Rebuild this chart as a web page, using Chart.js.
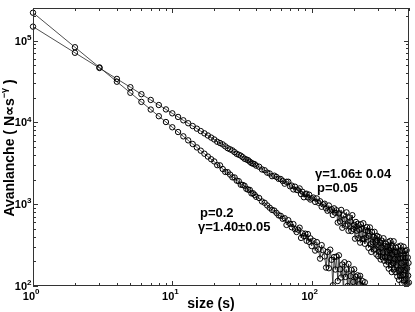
<!DOCTYPE html>
<html>
<head>
<meta charset="utf-8">
<script src="https://cdn.jsdelivr.net/npm/chart.js@4.4.1/dist/chart.umd.min.js"></script>
<style>
  html, body { margin: 0; padding: 0; background: #fff; }
  canvas { display: block; }
</style>
</head>
<body>
<canvas id="avalancheChart" width="415" height="312"></canvas>
<script>
// avalanche sizes (s) — same list for both runs, p=0.2 stops earlier
const sizes = [
  1, 2, 3, 4, 5, 6, 7, 8, 9, 10, 11, 12, 13, 14, 15, 16, 17, 18, 19, 20,
  21, 22, 23, 24, 25, 26, 27, 28, 29, 30, 31, 32, 33, 34, 35, 36, 37, 38, 39, 40,
  42, 44, 46, 48, 50, 52, 54, 56, 58, 60, 62, 64, 66, 68, 70, 72, 74, 76, 78, 80,
  82, 84, 86, 88, 90, 92, 94, 96, 98, 100,
  103, 106, 109, 112, 115, 118, 121, 124, 127, 130, 133, 136, 139, 142, 145, 148,
  151, 154, 157, 160, 163, 166, 169, 172, 175, 178, 181, 184, 187, 190, 193, 196,
  199, 202, 205, 208, 211, 214, 217, 220, 223, 226, 229, 232, 235, 238, 241, 244,
  247, 250, 253, 256, 259, 262, 265, 268, 271, 274, 277, 280, 283, 286, 289, 292,
  295, 298, 301, 304, 307, 310, 313, 316, 319, 322, 325, 328, 331, 334, 337, 340,
  343, 346, 349, 352, 355, 358, 361, 364, 367, 370, 373, 376, 379, 382, 385, 388,
  391, 394, 397, 400, 403, 406, 409, 412, 415, 418, 421, 424, 427, 430, 433, 436,
  439, 442, 445, 448, 451, 454, 457, 460, 463, 466, 469, 472, 475, 478, 481, 484,
  487, 490, 493, 496, 499
];

// p = 0.05, gamma = 1.06
const countsP005 = [
  148000, 70900, 46200, 34000, 26900, 22100, 18800, 16300, 14400, 12900,
  11650, 10600, 9760, 9020, 8380, 7830, 7340, 6910, 6520, 6180,
  5800, 5590, 5380, 5090, 4830, 4680, 4540, 4325, 4120, 4020,
  3920, 3755, 3590, 3520, 3450, 3310, 3180, 3130, 3080, 2960,
  2870, 2660, 2600, 2430, 2370, 2200, 2230, 2150, 2040, 2030,
  1923, 1781, 1877, 1880, 1655, 1688, 1516, 1637, 1497, 1478,
  1557, 1328, 1418, 1216, 1328, 1343, 1212, 1306, 1139, 1177,
  1205, 1066, 1176, 1042, 1085, 930, 994, 1013, 891, 831,
  963, 839, 867, 739, 889, 785, 842, 597, 772, 615,
  851, 515, 730, 654, 546, 794, 564, 473, 687, 616,
  470, 734, 499, 558, 379, 606, 474, 575, 383, 486,
  339, 569, 500, 374, 585, 381, 328, 478, 392, 523,
  470, 293, 409, 520, 324, 261, 458, 343, 399, 279,
  459, 286, 340, 243, 409, 361, 231, 396, 260, 338,
  211, 295, 359, 225, 256, 383, 204, 306, 224, 329,
  183, 262, 305, 200,
  344, 163, 275, 221, 356, 181, 291, 148, 243, 304,
  190, 352, 159, 213, 260, 148, 294, 180, 258, 131,
  216, 303,
  155, 119, 264, 218, 133, 311, 158, 189, 108, 269,
  222, 136, 302, 117, 197, 156, 268, 104, 220, 123,
  273, 164, 108, 223, 134, 191, 110
];

// p = 0.2, gamma = 1.40
const countsP02 = [
  219000, 82900, 47000, 31400, 23000, 17800, 14350, 11900, 10100, 8710,
  7620, 6750, 6030, 5440, 4940, 4510, 4140, 3820, 3545, 3330,
  3000, 2980, 2690, 2480, 2460, 2300, 2130, 2120, 1940, 1910,
  1730, 1720, 1680, 1540, 1505, 1495, 1355, 1360, 1300, 1230,
  1190, 1080, 1040, 965, 905, 851, 835, 781, 730, 720,
  663, 674, 558, 637, 577, 522, 571, 494, 457, 488,
  516, 387, 440, 409, 436, 357, 431, 346, 382, 308,
  357, 271, 344, 280, 216, 316, 273, 230, 168, 261,
  165, 278, 209, 102, 226, 159, 229, 115, 237, 160,
  127, 183, 83, 195, 129, 159, 100, 186, 81, 132,
  158, 93, 112, 160, 68, 130, 93, 135, 74, 105,
  133, 79, 55, 115, 87, 68, 111, 79, 87, 73
];

const xDecades = [1, 10, 100];
const yDecades = [100, 1000, 10000, 100000];
const FONT = '"Liberation Sans", Arial, Helvetica, sans-serif';

function toPoints(counts) {
  return counts.map((c, i) => ({ x: sizes[i], y: c }));
}

// draws "10" with a raised exponent
function drawPow(ctx, x, y, exp, side) {
  ctx.font = 'bold 11px ' + FONT;
  ctx.textBaseline = 'middle';
  if (side === 'y') {
    ctx.textAlign = 'right';
    ctx.fillText('10', x, y + 1);
    ctx.font = 'bold 8px ' + FONT;
    ctx.textAlign = 'left';
    ctx.fillText(String(exp), x, y - 3);
  } else {
    ctx.textAlign = 'right';
    ctx.fillText('10', x + 2, y + 5);
    ctx.font = 'bold 8px ' + FONT;
    ctx.textAlign = 'left';
    ctx.fillText(String(exp), x + 2, y);
  }
}

const matlabAxes = {
  id: 'matlabAxes',
  afterDraw(chart) {
    const { ctx, chartArea: a } = chart;
    const xs = chart.scales.x, ys = chart.scales.y;
    ctx.save();
    ctx.strokeStyle = '#333';
    ctx.lineWidth = 1;
    ctx.strokeRect(a.left + 0.5, a.top + 0.5, a.right - a.left - 1, a.bottom - a.top - 1);

    // inward ticks, all four sides
    ctx.beginPath();
    xDecades.forEach(d => {
      for (let m = 1; m <= 9; m++) {
        const v = d * m;
        if (v < xs.min || v > xs.max) continue;
        const len = m === 1 ? 5 : 3;
        const px = Math.round(xs.getPixelForValue(v)) + 0.5;
        ctx.moveTo(px, a.bottom); ctx.lineTo(px, a.bottom - len);
        ctx.moveTo(px, a.top); ctx.lineTo(px, a.top + len);
      }
    });
    yDecades.forEach(d => {
      for (let m = 1; m <= 9; m++) {
        const v = d * m;
        if (v < ys.min || v > ys.max) continue;
        const len = m === 1 ? 5 : 3;
        const py = Math.round(ys.getPixelForValue(v)) + 0.5;
        ctx.moveTo(a.left, py); ctx.lineTo(a.left + len, py);
        ctx.moveTo(a.right, py); ctx.lineTo(a.right - len, py);
      }
    });
    ctx.stroke();

    // tick labels
    ctx.fillStyle = '#000';
    yDecades.forEach(v => {
      drawPow(ctx, a.left - 6, ys.getPixelForValue(v), Math.round(Math.log10(v)), 'y');
    });
    xDecades.forEach(v => {
      drawPow(ctx, xs.getPixelForValue(v), a.bottom + 6, Math.round(Math.log10(v)), 'x');
    });

    // x title
    ctx.font = 'bold 14px ' + FONT;
    ctx.textAlign = 'center';
    ctx.textBaseline = 'middle';
    ctx.fillText('size (s)', 211, 304);

    // y title with superscript
    ctx.save();
    ctx.translate(10, 148);
    ctx.rotate(-Math.PI / 2);
    const parts = [
      { t: 'Avanlanche ( N\u221Ds', f: 'bold 14px ' + FONT, dy: 0 },
      { t: '\u2212\u03B3', f: 'bold 9px ' + FONT, dy: -5 },
      { t: ' )', f: 'bold 14px ' + FONT, dy: 0 }
    ];
    let total = 0;
    parts.forEach(p => { ctx.font = p.f; p.w = ctx.measureText(p.t).width; total += p.w; });
    let cx = -total / 2;
    ctx.textAlign = 'left';
    parts.forEach(p => { ctx.font = p.f; ctx.fillText(p.t, cx, p.dy); cx += p.w; });
    ctx.restore();

    // exponent annotations
    ctx.font = 'bold 13px ' + FONT;
    ctx.textAlign = 'left';
    ctx.fillText('\u03B3=1.06\u00B1 0.04', 315, 174);
    ctx.fillText('p=0.05', 317, 188);
    ctx.fillText('p=0.2', 200, 213);
    ctx.fillText('\u03B3=1.40\u00B10.05', 198, 227);
    ctx.restore();
  }
};

const seriesStyle = {
  showLine: true,
  borderColor: '#222',
  borderWidth: 0.8,
  pointRadius: 2.7,
  pointHoverRadius: 2.7,
  pointBorderColor: '#000',
  pointBorderWidth: 1,
  pointBackgroundColor: 'rgba(0,0,0,0)',
  clip: { left: 5, top: 5, right: 4, bottom: 0 }
};

new Chart(document.getElementById('avalancheChart'), {
  type: 'scatter',
  data: {
    datasets: [
      Object.assign({ label: 'p=0.05', data: toPoints(countsP005) }, seriesStyle),
      Object.assign({ label: 'p=0.2', data: toPoints(countsP02) }, seriesStyle)
    ]
  },
  options: {
    responsive: false,
    animation: false,
    layout: { padding: { left: 33, right: 6, top: 8, bottom: 26 } },
    plugins: { legend: { display: false }, tooltip: { enabled: false } },
    scales: {
      x: { type: 'logarithmic', min: 1, max: 500, display: false },
      y: { type: 'logarithmic', min: 100, max: 250000, display: false }
    }
  },
  plugins: [matlabAxes]
});
</script>
</body>
</html>
